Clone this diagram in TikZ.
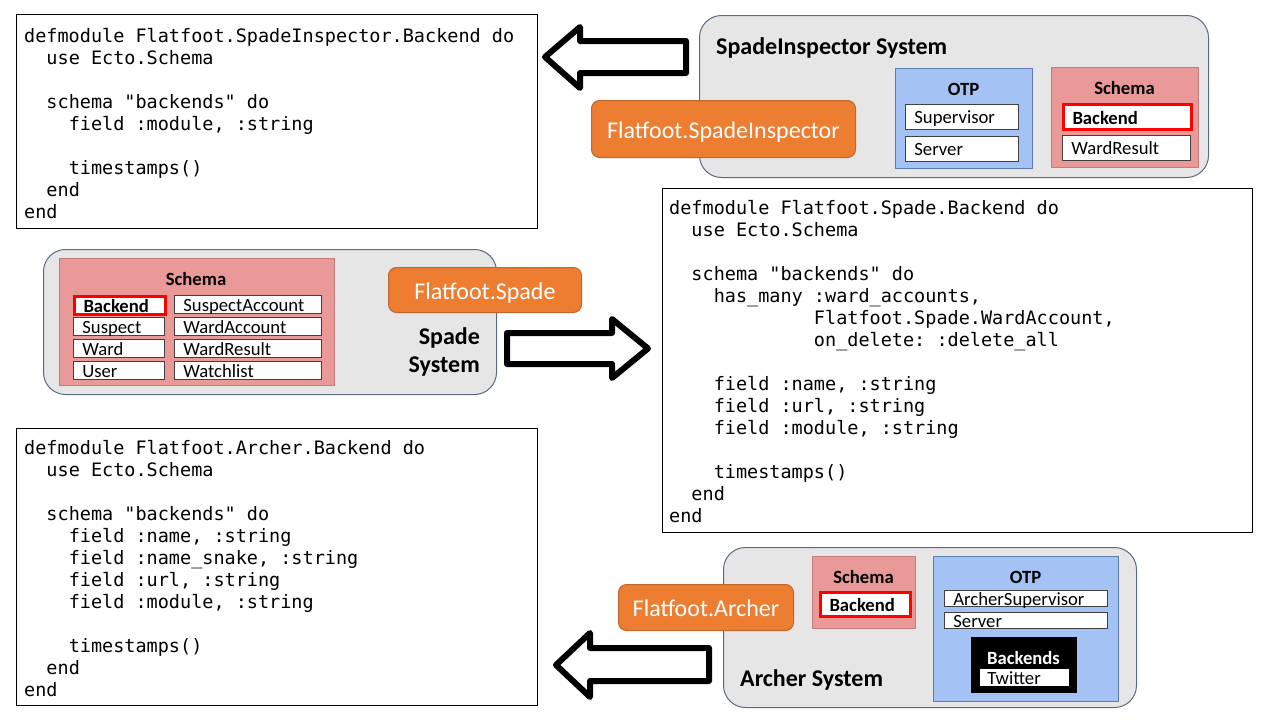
\documentclass[tikz,border=0pt]{standalone}
\usepackage{fontspec}
\setmainfont{Carlito}
\newfontfamily\codefont{DejaVu Sans Mono}
\definecolor{sysfill}{HTML}{E7E6E6}
\definecolor{sysborder}{HTML}{5A6A80}
\definecolor{otpfill}{HTML}{A4C2F4}
\definecolor{otpborder}{HTML}{5B7DB1}
\definecolor{schfill}{HTML}{EA9999}
\definecolor{schborder}{HTML}{C27C7C}
\definecolor{orfill}{HTML}{ED7D31}
\definecolor{orborder}{HTML}{C0662A}
\definecolor{itemborder}{HTML}{404040}
\begin{document}
\begin{tikzpicture}[x=1pt,y=-1pt,
  codebox/.style={draw=black, line width=1pt, fill=white, anchor=north west, inner sep=0pt},
  codetext/.style={anchor=north west, inner sep=0pt, align=left, font=\codefont\fontsize{18.5}{22}\selectfont\frenchspacing},
  sysbox/.style={draw=sysborder, fill=sysfill, rounded corners=22pt, line width=1pt, anchor=north west, inner sep=0pt},
  otpbox/.style={draw=otpborder, fill=otpfill, line width=1pt, anchor=north west, inner sep=0pt},
  schbox/.style={draw=schborder, fill=schfill, line width=1pt, anchor=north west, inner sep=0pt},
  item/.style={draw=itemborder, fill=white, line width=0.8pt, anchor=north west, inner xsep=9pt, inner ysep=0pt, align=left, text height=15pt, text depth=1pt, font=\fontsize{18.67}{20}\selectfont},
  keyitem/.style={item, draw=red, line width=3pt, font=\bfseries\fontsize{18.67}{20}\selectfont},
  orangebox/.style={draw=orborder, fill=orfill, rounded corners=8pt, text=white, font=\fontsize{24}{28}\selectfont, inner sep=0pt, text height=18pt, text depth=0pt, line width=1pt, anchor=north west},
  systitle/.style={font=\bfseries\fontsize{24}{28}\selectfont, inner sep=0pt},
  boxlabel/.style={font=\bfseries\fontsize{18.67}{20}\selectfont, inner sep=0pt},
  blockarrow/.style={draw=black, fill=white, line width=6pt, line join=round}
]
\useasboundingbox[fill=white] (0,0) rectangle (1280,720);

% ---------- code boxes ----------
\node[codebox, minimum width=521pt, minimum height=214pt] (code1) at (16,14) {};
\node[codetext] (code1t) at (24,27) {\rule{0pt}{15pt}defmodule Flatfoot.SpadeInspector.Backend do\\
~~use Ecto.Schema\\
\mbox{}\\
~~schema "backends" do\\
~~~~field :module, :string\\
\mbox{}\\
~~~~timestamps()\\
~~end\\
end};

\node[codebox, minimum width=590pt, minimum height=344pt] (code2) at (662,188) {};
\node[codetext] (code2t) at (669,199) {\rule{0pt}{15pt}defmodule Flatfoot.Spade.Backend do\\
~~use Ecto.Schema\\
\mbox{}\\
~~schema "backends" do\\
~~~~has\_many :ward\_accounts,\\
~~~~~~~~~~~~~Flatfoot.Spade.WardAccount,\\
~~~~~~~~~~~~~on\_delete: :delete\_all\\
\mbox{}\\
~~~~field :name, :string\\
~~~~field :url, :string\\
~~~~field :module, :string\\
\mbox{}\\
~~~~timestamps()\\
~~end\\
end};

\node[codebox, minimum width=521pt, minimum height=277pt] (code3) at (16,428) {};
\node[codetext] (code3t) at (24,439) {\rule{0pt}{15pt}defmodule Flatfoot.Archer.Backend do\\
~~use Ecto.Schema\\
\mbox{}\\
~~schema "backends" do\\
~~~~field :name, :string\\
~~~~field :name\_snake, :string\\
~~~~field :url, :string\\
~~~~field :module, :string\\
\mbox{}\\
~~~~timestamps()\\
~~end\\
end};

% ---------- SpadeInspector system ----------
\node[sysbox, minimum width=509pt, minimum height=162pt] (si) at (699,15) {};
\node[systitle, anchor=west] (sititle) at (716,48) {SpadeInspector System};
\node[otpbox, minimum width=137pt, minimum height=100pt] (siotp) at (895,68) {};
\node[boxlabel] (siotpl) at (963.5,89) {OTP};
\node[item, text width=95pt, minimum height=25pt] (sisup) at (905,104) {Supervisor};
\node[item, text width=95pt, minimum height=25pt] (sisrv) at (905,136) {Server};
\node[schbox, minimum width=147pt, minimum height=100pt] (sisch) at (1051,67) {};
\node[boxlabel] (sischl) at (1124.5,88) {Schema};
\node[keyitem, text width=110pt, minimum height=25pt] (sibe) at (1062,103) {Backend};
\node[item, text width=110pt, minimum height=25pt] (siwr) at (1062,135) {WardResult};
\node[orangebox, minimum width=264pt, minimum height=57pt] (sior) at (591,100) {Flatfoot.SpadeInspector};

% ---------- Spade system ----------
\node[sysbox, minimum width=453pt, minimum height=145pt] (sp) at (43,249) {};
\node[schbox, minimum width=275pt, minimum height=127pt] (spsch) at (59,258) {};
\node[boxlabel] (spschl) at (196,279) {Schema};
\node[keyitem, text width=73pt, minimum height=18pt] (spbe) at (73,295) {Backend};
\node[item, text width=73pt, minimum height=18pt] (spsus) at (73,317) {Suspect};
\node[item, text width=73pt, minimum height=18pt] (spward) at (73,339) {Ward};
\node[item, text width=73pt, minimum height=18pt] (spuser) at (73,361) {User};
\node[item, text width=129pt, minimum height=18pt] (spsa) at (174,295) {SuspectAccount};
\node[item, text width=129pt, minimum height=18pt] (spwa) at (174,317) {WardAccount};
\node[item, text width=129pt, minimum height=18pt] (spwr) at (174,339) {WardResult};
\node[item, text width=129pt, minimum height=18pt] (spwl) at (174,361) {Watchlist};
\node[orangebox, minimum width=193pt, minimum height=45pt] (spor) at (388,267) {Flatfoot.Spade};
\node[systitle, align=right, anchor=east] (sptitle) at (480,352) {Spade\\System};

% ---------- Archer system ----------
\node[sysbox, minimum width=413pt, minimum height=160pt] (ar) at (723,547) {};
\node[schbox, minimum width=103pt, minimum height=72pt] (arsch) at (812,556) {};
\node[boxlabel] (arschl) at (863.5,577) {Schema};
\node[keyitem, text width=72pt, minimum height=24pt] (arbe) at (819,591) {Backend};
\node[otpbox, minimum width=185pt, minimum height=145pt] (arotp) at (933,556) {};
\node[boxlabel] (arotpl) at (1025.5,577) {OTP};
\node[item, text width=145pt, minimum height=16pt] (arsup) at (944,590) {ArcherSupervisor};
\node[item, text width=145pt, minimum height=16pt] (arsrv) at (944,612) {Server};
\node[draw=black, fill=black, anchor=north west, inner sep=0pt, minimum width=105pt, minimum height=55pt] (arbk) at (971,637) {};
\node[boxlabel, text=white] (arbkl) at (1023.5,658) {Backends};
\node[item, inner xsep=8pt, text width=74pt, minimum height=18pt, draw=black] (artw) at (979,668) {Twitter};
\node[systitle, anchor=west] (artitle) at (740,680) {Archer System};
\node[orangebox, minimum width=175pt, minimum height=46pt] (aror) at (618,584) {Flatfoot.Archer};

% ---------- block arrows ----------
\draw[blockarrow] (686,41) -- (580,41) -- (580,27) -- (545,57) -- (580,88) -- (580,73) -- (686,73) -- cycle;
\draw[blockarrow] (507,333) -- (612,333) -- (612,319) -- (648,348.5) -- (612,378) -- (612,364) -- (507,364) -- cycle;
\draw[blockarrow] (709,648) -- (590,648) -- (590,633) -- (556,665) -- (590,697) -- (590,681) -- (709,681) -- cycle;
\end{tikzpicture}
\end{document}
